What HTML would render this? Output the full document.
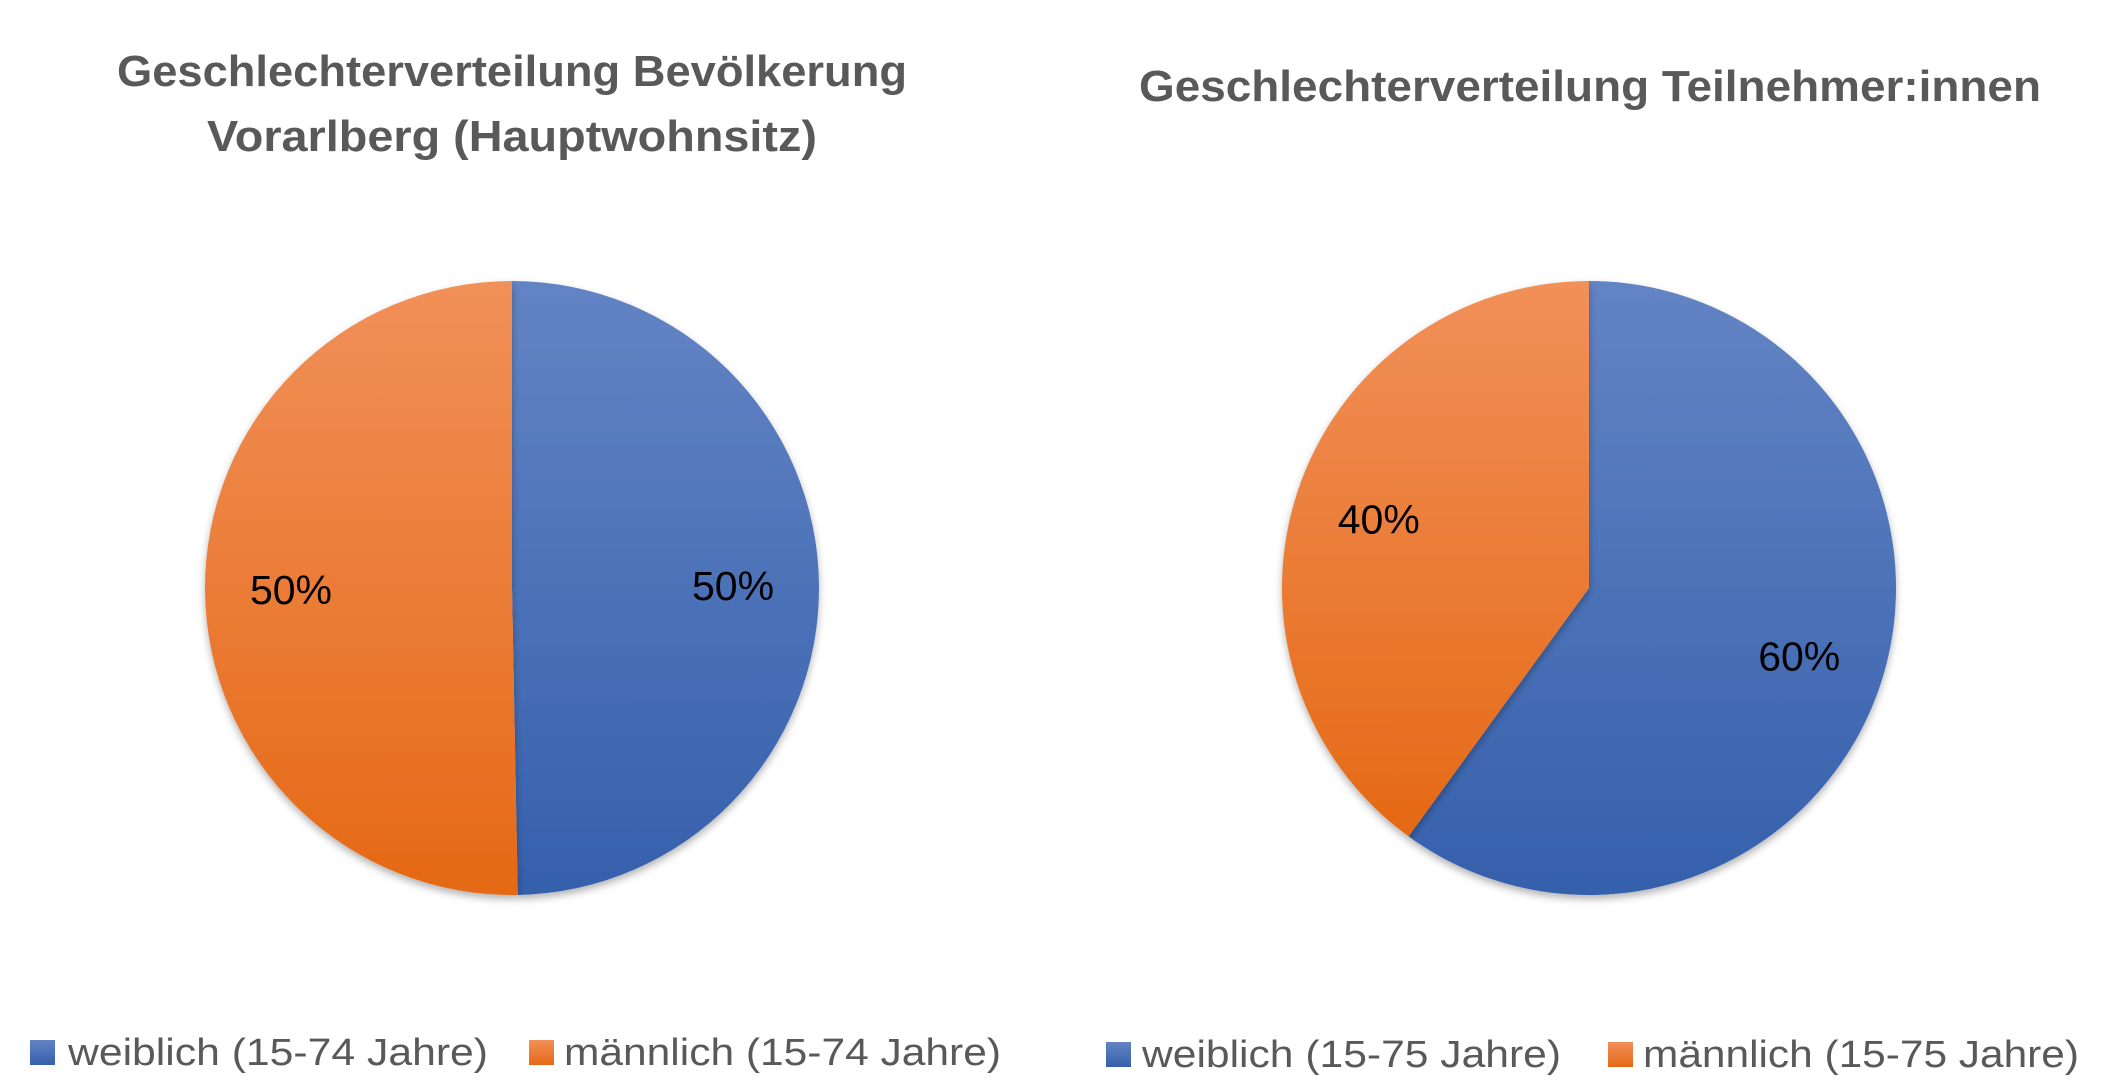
<!DOCTYPE html>
<html><head><meta charset="utf-8"><style>
html,body{margin:0;padding:0;background:#fff;}
svg{display:block;font-family:"Liberation Sans",sans-serif;}
</style></head><body>
<svg id="chart" width="2120" height="1087" viewBox="0 0 2120 1087" xmlns="http://www.w3.org/2000/svg">
<defs>
<linearGradient id="gBlue" x1="0" y1="0" x2="0" y2="1"><stop offset="0" stop-color="#6384c4"/><stop offset="1" stop-color="#3560ac"/></linearGradient>
<linearGradient id="gOrange" x1="0" y1="0" x2="0" y2="1"><stop offset="0" stop-color="#f19059"/><stop offset="1" stop-color="#e56915"/></linearGradient>
<filter id="sh" x="-10%" y="-10%" width="120%" height="125%"><feDropShadow dx="0" dy="4" stdDeviation="4" flood-color="#000" flood-opacity="0.3"/></filter>
</defs>
<g fill="#595959" font-weight="bold" font-size="44">
<text x="512" y="86" text-anchor="middle" textLength="790" lengthAdjust="spacingAndGlyphs">Geschlechterverteilung Bevölkerung</text>
<text x="512" y="151" text-anchor="middle" textLength="610" lengthAdjust="spacingAndGlyphs">Vorarlberg (Hauptwohnsitz)</text>
<text x="1590" y="101" text-anchor="middle" textLength="902" lengthAdjust="spacingAndGlyphs">Geschlechterverteilung Teilnehmer:innen</text>
</g>
<g id="pies"></g>
<g fill="#595959" font-size="38">
<rect x="30" y="1040" width="25" height="25" fill="url(#gBlue)"/>
<text x="68" y="1065" textLength="420" lengthAdjust="spacingAndGlyphs">weiblich (15-74 Jahre)</text>
<rect x="529" y="1040" width="25" height="25" fill="url(#gOrange)"/>
<text x="564" y="1065" textLength="437" lengthAdjust="spacingAndGlyphs">männlich (15-74 Jahre)</text>
<rect x="1106" y="1042" width="25" height="25" fill="url(#gBlue)"/>
<text x="1142" y="1067" textLength="419" lengthAdjust="spacingAndGlyphs">weiblich (15-75 Jahre)</text>
<rect x="1608" y="1042" width="25" height="25" fill="url(#gOrange)"/>
<text x="1643" y="1067" textLength="436" lengthAdjust="spacingAndGlyphs">männlich (15-75 Jahre)</text>
</g>
</svg>
<script>
const categories = ["weiblich", "männlich"];
const leftValues = [49.7, 50.3];
const rightValues = [60, 40];
const leftLabels = ["50%", "50%"];
const rightLabels = ["60%", "40%"];

const NS = "http://www.w3.org/2000/svg";
const fills = ["url(#gBlue)", "url(#gOrange)"];
const R = 307;
function pt(cx, cy, r, frac) {
  const a = frac * 2 * Math.PI;
  return [cx + r * Math.sin(a), cy - r * Math.cos(a)];
}
function drawPie(cx, cy, values, labels, side) {
  const g = document.getElementById("pies");
  const total = values.reduce((a, b) => a + b, 0);
  let acc = 0;
  values.forEach((v, i) => {
    const f0 = acc / total, f1 = (acc + v) / total;
    acc += v;
    const p0 = pt(cx, cy, R, f0), p1 = pt(cx, cy, R, f1);
    const large = (f1 - f0) > 0.5 ? 1 : 0;
    const path = document.createElementNS(NS, "path");
    path.setAttribute("d", `M${cx},${cy} L${p0[0]},${p0[1]} A${R},${R} 0 ${large} 1 ${p1[0]},${p1[1]} Z`);
    path.setAttribute("fill", fills[i]);
    path.setAttribute("filter", "url(#sh)");
    
    
    g.appendChild(path);
  });
  acc = 0;
  values.forEach((v, i) => {
    const fm = (acc + v / 2) / total;
    acc += v;
    const lp = pt(cx, cy, R * 0.72, fm);
    const t = document.createElementNS(NS, "text");
    t.setAttribute("x", lp[0]);
    t.setAttribute("y", lp[1] + 14);
    t.setAttribute("text-anchor", "middle");
    t.setAttribute("font-size", "41");
    t.setAttribute("fill", "#000");
    t.textContent = labels[i];
    
    
    g.appendChild(t);
  });
}
drawPie(512, 588, leftValues, leftLabels, "left");
drawPie(1589, 588, rightValues, rightLabels, "right");
</script>
</body></html>
